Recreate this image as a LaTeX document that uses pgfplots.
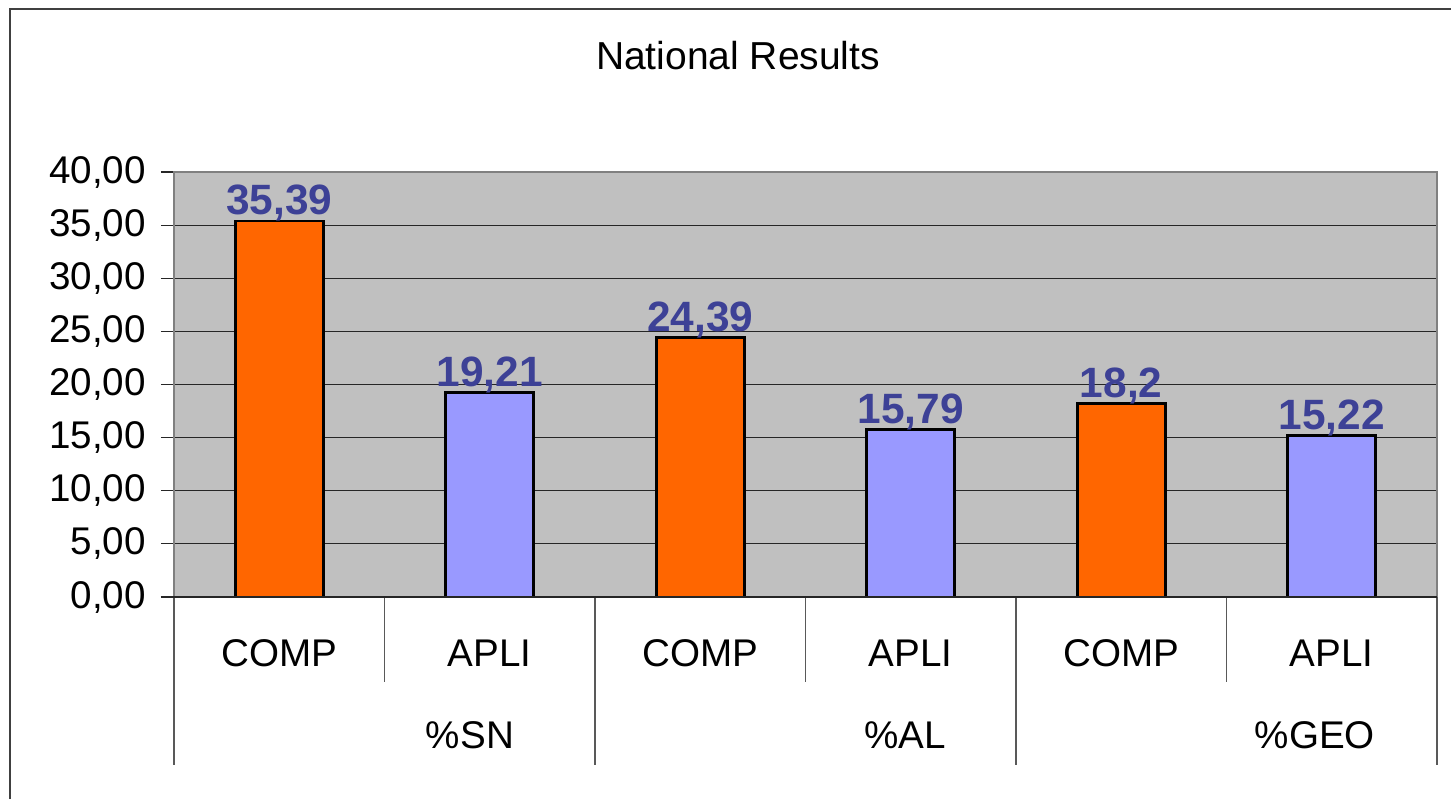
\documentclass[border=0pt]{standalone}
\usepackage{pgfplots}
\pgfplotsset{compat=1.18}
\usepackage{pgfplotstable}
\usepackage{fontspec}
\setmainfont{Liberation Sans}
\definecolor{barorange}{HTML}{FF6600}
\definecolor{barblue}{HTML}{9999FF}
\definecolor{plotbg}{HTML}{C0C0C0}
\definecolor{lblblue}{HTML}{3D4196}
\definecolor{frame}{HTML}{404040}

\pgfplotstableread{
x y label
1 35.39 35,39
3 24.39 24,39
5 18.2 18,2
}\comp
\pgfplotstableread{
x y label
2 19.21 19,21
4 15.79 15,79
6 15.22 15,22
}\apli

\begin{document}
\begin{tikzpicture}
\useasboundingbox (0pt,0pt) rectangle (725.5pt,399.5pt);
% outer chart frame
\draw[frame, line width=1.1pt] (5pt,0pt) -- (5pt,395pt) -- (725.5pt,395pt);
\node[font=\fontsize{19.5pt}{22pt}\selectfont, anchor=base] at (369pt,364.5pt) {National Results};
\begin{axis}[
  at={(87pt,101pt)}, anchor=south west,
  scale only axis,
  width=631.5pt, height=212.5pt,
  xmin=0.5, xmax=6.5, ymin=0, ymax=40,
  axis background/.style={fill=plotbg},
  axis line style={draw=black!50, line width=1.1pt},
  ytick={0,5,...,40},
  ymajorgrids,
  tick pos=left,
  major grid style={black!85, line width=0.55pt},
  y tick style={black!85, line width=0.55pt},
  tick align=outside,
  major tick length=6.5pt,
  yticklabel style={font=\fontsize{19.3pt}{22pt}\selectfont, anchor=east, xshift=-4pt},
  /pgf/number format/.cd, fixed, fixed zerofill, precision=2, use comma, assume math mode=true,
  /pgfplots/.cd,
  xtick={1,2,3,4,5,6},
  xticklabels={COMP,APLI,COMP,APLI,COMP,APLI},
  x tick style={draw=none},
  xticklabel style={font=\fontsize{19.3pt}{22pt}\selectfont, anchor=base, yshift=-28pt},
  clip=false,
  nodes near coords,
  point meta=explicit symbolic,
  every node near coord/.append style={font=\bfseries\fontsize{21.2pt}{24pt}\selectfont, text=lblblue, anchor=base, yshift=3pt},
]
\addplot[ybar, bar shift=0pt, bar width=44pt, fill=barorange, draw=black, line width=1.4pt]
  table[x=x, y=y, meta=label] {\comp};
\addplot[ybar, bar shift=0pt, bar width=44pt, fill=barblue, draw=black, line width=1.4pt]
  table[x=x, y=y, meta=label] {\apli};
% multi-level category separators
\pgfplotsinvokeforeach{0.5,2.5,4.5,6.5}{
  \draw[black!65, line width=0.6pt] (axis cs:#1,0) -- ([yshift=-84pt]axis cs:#1,0);
}
\pgfplotsinvokeforeach{1.5,3.5,5.5}{
  \draw[black!65, line width=0.6pt] (axis cs:#1,0) -- ([yshift=-42.5pt]axis cs:#1,0);
}
\draw[black!85, line width=0.8pt] ([xshift=-6.5pt]axis cs:0.5,0) -- (axis cs:6.5,0);
\node[font=\fontsize{19.3pt}{22pt}\selectfont, anchor=base] at ([yshift=-75.5pt]axis cs:1.906,0) {\%SN};
\node[font=\fontsize{19.3pt}{22pt}\selectfont, anchor=base] at ([yshift=-75.5pt]axis cs:3.973,0) {\%AL};
\node[font=\fontsize{19.3pt}{22pt}\selectfont, anchor=base] at ([yshift=-75.5pt]axis cs:5.92,0) {\%GEO};
\end{axis}
\end{tikzpicture}
\end{document}
